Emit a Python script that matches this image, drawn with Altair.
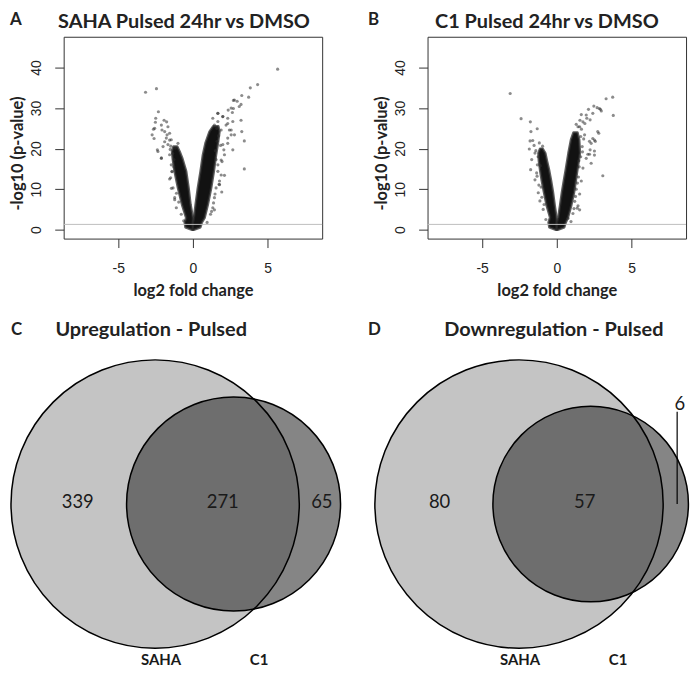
import altair as alt
import pandas as pd

# ---------------- Volcano data ----------------
# Panel A: SAHA pulsed 24hr vs DMSO -- scattered points outside the dense core
A_x = [5.67, -3.17, -2.44, 4.33, 3.84, 3.73, 3.27, 2.71, 2.96, 3.22, 2.36, 2.71, 2.64,
       -2.31, -2.49, -2.51, -1.93, -1.76, -2.64, -2.73, -2.60, -2.38, -2.11, -2.07, -1.73,
       -1.56, -1.89, 3.22, 3.27, 3.44, 3.44, 1.93, 1.67, 2.00, 2.33, 2.44, 2.56, 2.78, 2.33,
       2.07, 1.89, 2.11, 1.78, 1.44, -1.56, -1.44, -1.22, -1.40,
       -2.56, -2.11, -1.67, -1.89, -1.56, -1.78, -1.45, -1.67, -2.00, -2.34, -2.11, -1.56,
       -1.45, -1.49, -1.33, -1.22, -1.11, -0.78, -1.40, -1.27, -1.18, -1.00, -1.35, -1.28,
       -1.10, -0.95, -0.62, -1.48, -1.52,
       2.78, 2.56, 3.10, 1.67, 2.00, 2.33, 2.67, 2.22, 2.56, 1.89, 1.67, 1.33, 1.44, 2.33,
       2.67, 2.00, 2.11, 1.67, 1.89, 1.55, 1.44, 1.33, 1.18, 1.78, 1.67, 1.55, 1.50, 1.62,
       1.72, 1.48, 1.38, 1.25, 0.95, 1.85, 1.95, 1.75, 1.60]
A_y = [39.6, 33.9, 34.8, 35.8, 35.0, 32.7, 33.1, 31.9, 31.7, 30.9, 29.5, 29.9, 28.9,
       29.1, 27.5, 26.5, 27.0, 26.6, 24.8, 23.4, 22.5, 19.7, 17.6, 24.6, 23.4,
       22.1, 21.7, 27.0, 24.2, 21.9, 15.0, 9.3, 28.7, 27.9, 26.2, 24.6, 23.4, 23.4, 21.3,
       19.7, 17.2, 13.4, 11.1, 4.9, 12.5, 10.2, 7.4, 14.3,
       25.0, 25.8, 25.4, 24.2, 23.8, 22.6, 22.2, 21.0, 20.5, 19.3, 17.7, 18.5,
       16.0, 12.8, 10.3, 7.9, 5.4, 3.8, 14.4, 17.3, 20.1, 21.3, 18.8, 15.5,
       9.0, 6.8, 2.2, 20.6, 19.8,
       32.0, 30.0, 30.4, 28.7, 27.9, 27.5, 26.7, 25.8, 24.6, 24.6, 26.7, 27.5, 25.8, 22.6,
       19.7, 21.0, 18.5, 16.0, 13.5, 10.3, 7.9, 5.4, 3.8, 12.0, 14.4, 17.3, 19.5, 21.8,
       23.2, 8.8, 6.6, 4.5, 1.8, 20.8, 16.8, 11.2, 25.0]
# Panel A: envelope of the dense (solid black) core, per arm
A_left_y = [0.0, 0.6, 1.8, 2.9, 6.2, 10.3, 14.4, 17.5, 19.3, 20.5]
A_left_outer = [-0.10, -0.50, -0.55, -0.45, -0.73, -1.00, -1.23, -1.35, -1.40, -1.30]
A_left_inner = [0.0, 0.0, 0.0, 0.0, -0.16, -0.29, -0.45, -0.70, -0.89, -1.05]
A_right_y = [0.0, 0.6, 1.8, 2.9, 6.2, 10.3, 14.4, 18.5, 21.5, 24.2, 25.5]
A_right_inner = [0.0, 0.0, 0.0, 0.07, 0.18, 0.33, 0.51, 0.67, 0.85, 1.11, 1.35]
A_right_outer = [0.10, 0.50, 0.60, 0.78, 1.00, 1.22, 1.40, 1.55, 1.68, 1.78, 1.70]

# Panel B: C1 pulsed 24hr vs DMSO
B_x = [-3.12, -2.39, -1.77, -1.73, -1.31, -1.79, -1.84, -1.75, 3.74, 3.30, 3.78, 2.48, 2.70,
       2.92, 2.12, 1.64, 2.01, 2.74, 3.08, 2.23, 2.41, 2.08, 2.52, 1.37, 1.53, 2.30, 2.52,
       1.42, 1.75,
       -1.61, -1.46, -1.68, -1.46, -1.24, -1.13, -0.91, -0.73, -1.17, -0.95, -1.30, -1.35,
       -1.20, -1.00, -1.40, -1.52, -1.25, -1.10, -0.85, -1.05, -1.32,
       2.85, 2.98, 1.97, 2.23, 1.53, 1.86, 2.19, 2.52, 2.19, 2.30, 1.97, 1.75, 1.64, 1.53,
       1.42, 1.08, 0.75, 2.81, 2.58, 2.41, 1.60, 1.70, 1.60, 1.50, 1.45, 1.30, 1.20, 1.30,
       1.55, 1.65, 1.80, 1.48, 1.38, 1.25, 1.15, 0.95, 1.72, 1.88]
B_y = [33.6, 27.4, 26.6, 24.2, 24.9, 21.9, 19.9, 14.8, 32.7, 32.3, 28.2, 30.5, 30.1,
       29.7, 29.7, 28.4, 27.5, 24.2, 13.3, 19.7, 22.5, 18.6, 18.4, 5.3, 4.9, 21.3, 22.1,
       25.4, 26.6,
       22.0, 18.9, 17.3, 12.3, 9.1, 7.1, 5.0, 2.5, 21.4, 20.6, 16.0, 14.0,
       11.0, 8.0, 19.5, 20.8, 18.0, 15.8, 6.2, 10.5, 13.2,
       29.9, 29.3, 28.3, 27.1, 25.4, 23.4, 21.8, 19.4, 18.6, 16.4, 17.6, 15.2, 12.0, 8.8,
       5.9, 4.0, 2.8, 23.8, 21.8, 28.7, 23.0, 20.5, 18.0, 15.5, 13.0, 10.0, 7.0, 26.0,
       27.0, 24.8, 22.4, 17.0, 11.5, 8.2, 5.2, 2.0, 19.2, 26.2]
B_left_y = [0.0, 0.6, 1.8, 3.0, 6.0, 9.1, 12.0, 14.8, 17.0, 18.9, 20.0]
B_left_outer = [-0.10, -0.50, -0.55, -0.45, -0.68, -0.85, -1.00, -1.12, -1.20, -1.23, -1.12]
B_left_inner = [0.0, 0.0, 0.0, -0.02, -0.14, -0.25, -0.38, -0.52, -0.66, -0.77, -0.95]
B_right_y = [0.0, 0.6, 1.8, 3.0, 6.0, 9.1, 12.0, 14.8, 18.9, 22.2, 24.0]
B_right_inner = [0.0, 0.0, 0.0, 0.10, 0.22, 0.34, 0.47, 0.60, 0.78, 0.95, 1.12]
B_right_outer = [0.10, 0.50, 0.60, 0.75, 0.97, 1.15, 1.27, 1.38, 1.55, 1.50, 1.38]

p_threshold_line = [1.301]          # -log10(0.05)
x_ticks = [-5, 0, 5]
y_ticks = [0, 10, 20, 30, 40]
volcano_titles = ["SAHA Pulsed 24hr vs DMSO", "C1 Pulsed 24hr vs DMSO"]
letters = ["A", "B", "C", "D"]

# ---------------- Venn data ----------------
venn_titles = ["Upregulation - Pulsed", "Downregulation - Pulsed"]
set_names = ["SAHA", "C1"]
up_counts = [339, 271, 65]      # SAHA only, both, C1 only
down_counts = [80, 57, 6]
# centre of the C1 circle, in units of the SAHA radius
up_c1_cx = 0.544
down_c1_cx = 0.497
# label positions (units of the SAHA radius)
up_label_x = [-0.537, 0.469, 1.156]
up_label_y = [0.014, 0.014, 0.014]
down_label_x = [-0.551, 0.456, 1.116]
down_label_y = [0.014, 0.014, 0.694]
down_leader_x = [1.097]
down_leader_y = [0.641]
down_leader_y2 = [0.0]
setname_x_up = [0.041, 0.721]
setname_x_down = [0.007, 0.687]

W, H = 260, 203
R_PX = 145

FONT_T = "Lato"
FONT_L = "Liberation Sans"

xs = alt.Scale(domain=[-8.65, 8.65], nice=False, zero=False)
ys = alt.Scale(domain=[-2.2, 47.6], nice=False, zero=False)

xaxis = alt.Axis(values=x_ticks, tickSize=9, tickColor="#333", domain=False, grid=False,
                 labelExpr="datum.value + ''", labelFont=FONT_L, labelFontSize=14,
                 labelColor="#222", labelBaseline="alphabetic", labelPadding=25.5,
                 title="log2 fold change", titleFont=FONT_T, titleFontSize=16.5,
                 titleFontWeight="bold", titleColor="#222", titleBaseline="alphabetic",
                 titleAlign="center", titleX=130, titleY=57)
yaxis = alt.Axis(values=y_ticks, tickSize=9, tickColor="#333", domain=False, grid=False,
                 labelAngle=270, labelAlign="center", labelBaseline="alphabetic",
                 labelPadding=14, labelFont=FONT_L, labelFontSize=14, labelColor="#222",
                 title="-log10 (p-value)", titleFont=FONT_T, titleFontSize=16.5,
                 titleFontWeight="bold", titleColor="#222", titleAngle=270,
                 titleAlign="center", titleBaseline="alphabetic", titleX=-41, titleY=117)


def arm_layer(yv, xa, xb):
    df = pd.DataFrame({"nlp": yv, "lfc": xa, "lfc2": xb})
    return alt.Chart(df).mark_area(orient="horizontal", color="#121212",
                                   stroke="#2a2a2a", strokeWidth=2.5, strokeOpacity=0.75,
                                   strokeJoin="round", interpolate="linear").encode(
        y=alt.Y("nlp:Q", scale=ys, axis=yaxis),
        x=alt.X("lfc:Q", scale=xs, axis=xaxis, stack=None),
        x2="lfc2:Q",
    )


def volcano(px, py, ly, lo, li, ry, ri, ro, title, letter, title_x, letter_x):
    pts = pd.DataFrame({"lfc": px, "nlp": py})
    left = arm_layer(ly, lo, li)
    right = arm_layer(ry, ri, ro)
    dots = alt.Chart(pts).mark_circle(size=10, color="#2e2e2e", opacity=0.55).encode(
        x=alt.X("lfc:Q", scale=xs, axis=xaxis),
        y=alt.Y("nlp:Q", scale=ys, axis=yaxis),
    )
    rule = alt.Chart(pd.DataFrame({"nlp": p_threshold_line})).mark_rule(
        color="#bdbdbd", strokeWidth=1).encode(y=alt.Y("nlp:Q", scale=ys, axis=yaxis))
    ttl = alt.Chart(pd.DataFrame({"t": [title]})).mark_text(
        font=FONT_T, fontSize=20, fontWeight="bold", color="#222",
        align="center", baseline="top").encode(
        text="t:N", x=alt.value(title_x), y=alt.value(-25))
    let = alt.Chart(pd.DataFrame({"t": [letter]})).mark_text(
        font=FONT_T, fontSize=17, fontWeight="bold", color="#222",
        align="left", baseline="top").encode(
        text="t:N", x=alt.value(letter_x), y=alt.value(-25))
    return alt.layer(left, right, dots, rule, ttl, let).properties(
        width=W, height=H, view=alt.ViewBackground(stroke="#333", strokeWidth=1))


vxs = alt.Scale(domain=[-92 / R_PX, (W - 92) / R_PX], nice=False, zero=False)
vys = alt.Scale(domain=[-H / 2 / R_PX, H / 2 / R_PX], nice=False, zero=False)


def venn(key, counts, c1_cx, lab_x, lab_y, name_x, title, letter, title_x, letter_x,
         leader=None):
    saha_total = counts[0] + counts[1]
    c1_total = counts[1] + counts[2]
    nfield = "n_" + key
    circ = pd.DataFrame({"set": set_names, nfield: [saha_total, c1_total],
                         "x": [0.0, c1_cx], "y": [0.0, 0.0]})
    size_scale = alt.Scale(domain=[0, saha_total], range=[0, (2 * R_PX) ** 2])
    X = alt.X("x:Q", scale=vxs, axis=None)
    Y = alt.Y("y:Q", scale=vys, axis=None)
    S = alt.Size(nfield + ":Q", scale=size_scale, legend=None)
    base = alt.Chart(circ)
    f1 = base.transform_filter(alt.datum.set == "SAHA").mark_circle(
        color="#c4c4c4", opacity=1).encode(x=X, y=Y, size=S)
    f2 = base.transform_filter(alt.datum.set == "C1").mark_circle(
        color="#373737", opacity=0.61).encode(x=X, y=Y, size=S)
    ol = base.mark_point(shape="circle", filled=False, stroke="black",
                         strokeWidth=1.5, opacity=1).encode(x=X, y=Y, size=S)
    nums = alt.Chart(pd.DataFrame({"v": [str(c) for c in counts], "x": lab_x, "y": lab_y})
                     ).mark_text(font=FONT_T, fontSize=18.5, color="#1a1a1a",
                                 align="center", baseline="middle").encode(
        x=X, y=Y, text="v:N")
    names = alt.Chart(pd.DataFrame({"v": set_names, "x": name_x,
                                    "y": [(503 - 665) / R_PX] * 2})).mark_text(
        font=FONT_T, fontSize=15, fontWeight="bold", color="#1a1a1a",
        align="center", baseline="alphabetic").encode(x=X, y=Y, text="v:N")
    ty = (503 - 328) / R_PX
    ttl = alt.Chart(pd.DataFrame({"v": [title], "x": [title_x], "y": [ty]})).mark_text(
        font=FONT_T, fontSize=20, fontWeight="bold", color="#222",
        align="center", baseline="middle").encode(x=X, y=Y, text="v:N")
    let = alt.Chart(pd.DataFrame({"v": [letter], "x": [letter_x], "y": [ty]})).mark_text(
        font=FONT_T, fontSize=17, fontWeight="bold", color="#222",
        align="left", baseline="middle").encode(x=X, y=Y, text="v:N")
    layers = [f1, f2, ol, nums, names, ttl, let]
    if leader is not None:
        lx, ly, ly2 = leader
        layers.append(alt.Chart(pd.DataFrame({"x": lx, "y": ly, "y2": ly2})).mark_rule(
            color="black", strokeWidth=1.2).encode(x=X, y=Y, y2="y2:Q"))
    return alt.layer(*layers).properties(
        width=W, height=H, view=alt.ViewBackground(strokeWidth=0, strokeOpacity=0))


pA = volcano(A_x, A_y, A_left_y, A_left_outer, A_left_inner, A_right_y, A_right_inner,
             A_right_outer, volcano_titles[0], letters[0], 121, -54)
pB = volcano(B_x, B_y, B_left_y, B_left_outer, B_left_inner, B_right_y, B_right_inner,
             B_right_outer, volcano_titles[1], letters[1], 120, -60)
pC = venn("up", up_counts, up_c1_cx, up_label_x, up_label_y, setname_x_up, venn_titles[0],
          letters[2], (150 - 154) / R_PX, (9 - 154) / R_PX)
pD = venn("down", down_counts, down_c1_cx, down_label_x, down_label_y, setname_x_down,
          venn_titles[1], letters[3], (555 - 520) / R_PX, (368 - 520) / R_PX,
          leader=(down_leader_x, down_leader_y, down_leader_y2))

chart = alt.concat(pA, pB, pC, pD, columns=2, spacing={"row": 165.5, "column": 106},
                   bounds="flush").resolve_scale(size="independent").properties(padding=0)

chart.save("out.html", embed_options={"renderer": "svg", "actions": False})
